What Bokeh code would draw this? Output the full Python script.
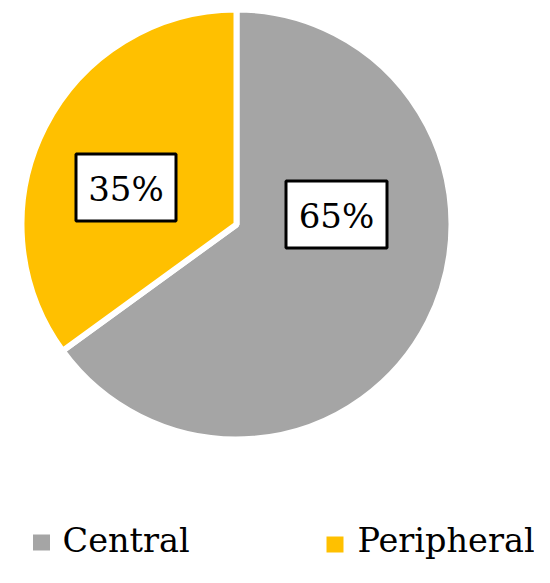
import math
from bokeh.plotting import figure
from bokeh.models import Range1d, ColumnDataSource
from bokeh.core.properties import value
from bokeh.embed import file_html
from bokeh.resources import INLINE

# ---- data ----
categories = ["Central", "Peripheral"]
shares = [65, 35]
labels = ["65%", "35%"]
colors = ["#A5A5A5", "#FFC000"]

# ---- layout (pixel coordinates; helper converts top-down y to data y) ----
W, H = 534, 567
FONT = "DejaVu Serif"


def Y(img_y):
    return H - img_y


cx, cy, R = 236, Y(224), 215

p = figure(width=W, height=H, output_backend="svg", toolbar_location=None,
           x_range=Range1d(0, W), y_range=Range1d(0, H), min_border=0)
p.axis.visible = False
p.grid.visible = False
p.outline_line_color = None
p.background_fill_color = "white"

total = sum(shares)
cum = 0.0
starts, ends = [], []
for s in shares:
    a0 = math.pi / 2 - 2 * math.pi * cum / total
    cum += s
    a1 = math.pi / 2 - 2 * math.pi * cum / total
    # anticlockwise from a1 to a0 == clockwise from a0 to a1
    starts.append(a1)
    ends.append(a0)

src = ColumnDataSource(dict(x=[cx] * len(shares), y=[cy] * len(shares),
                            start=starts, end=ends, color=colors))
p.wedge(x="x", y="y", radius=R, start_angle="start", end_angle="end",
        fill_color="color", line_color="white", line_width=6, source=src)

# data labels (boxed)
lab_x = [336, 125.5]
lab_y = [Y(214), Y(187)]
box_w = [101, 100]
box_h = [67, 67]
p.rect(x=lab_x, y=lab_y, width=box_w, height=box_h, fill_color="white",
       line_color="black", line_width=3)
p.text(x=lab_x, y=[ly - 1 for ly in lab_y], text=labels, text_align="center",
       text_baseline="middle",
       text_font=value(FONT), text_font_size="34px", text_color="black")

# legend
sq_x = [41, 334.5]
sq_y = [Y(542), Y(544)]
p.rect(x=sq_x, y=sq_y, width=17, height=16, fill_color=colors, line_color=None)
p.text(x=[62, 357], y=[Y(540), Y(540)], text=categories,
       text_align="left", text_baseline="middle",
       text_font=value(FONT), text_font_size="33.5px", text_color="black")

open("out.html", "w").write(file_html(p, INLINE))
